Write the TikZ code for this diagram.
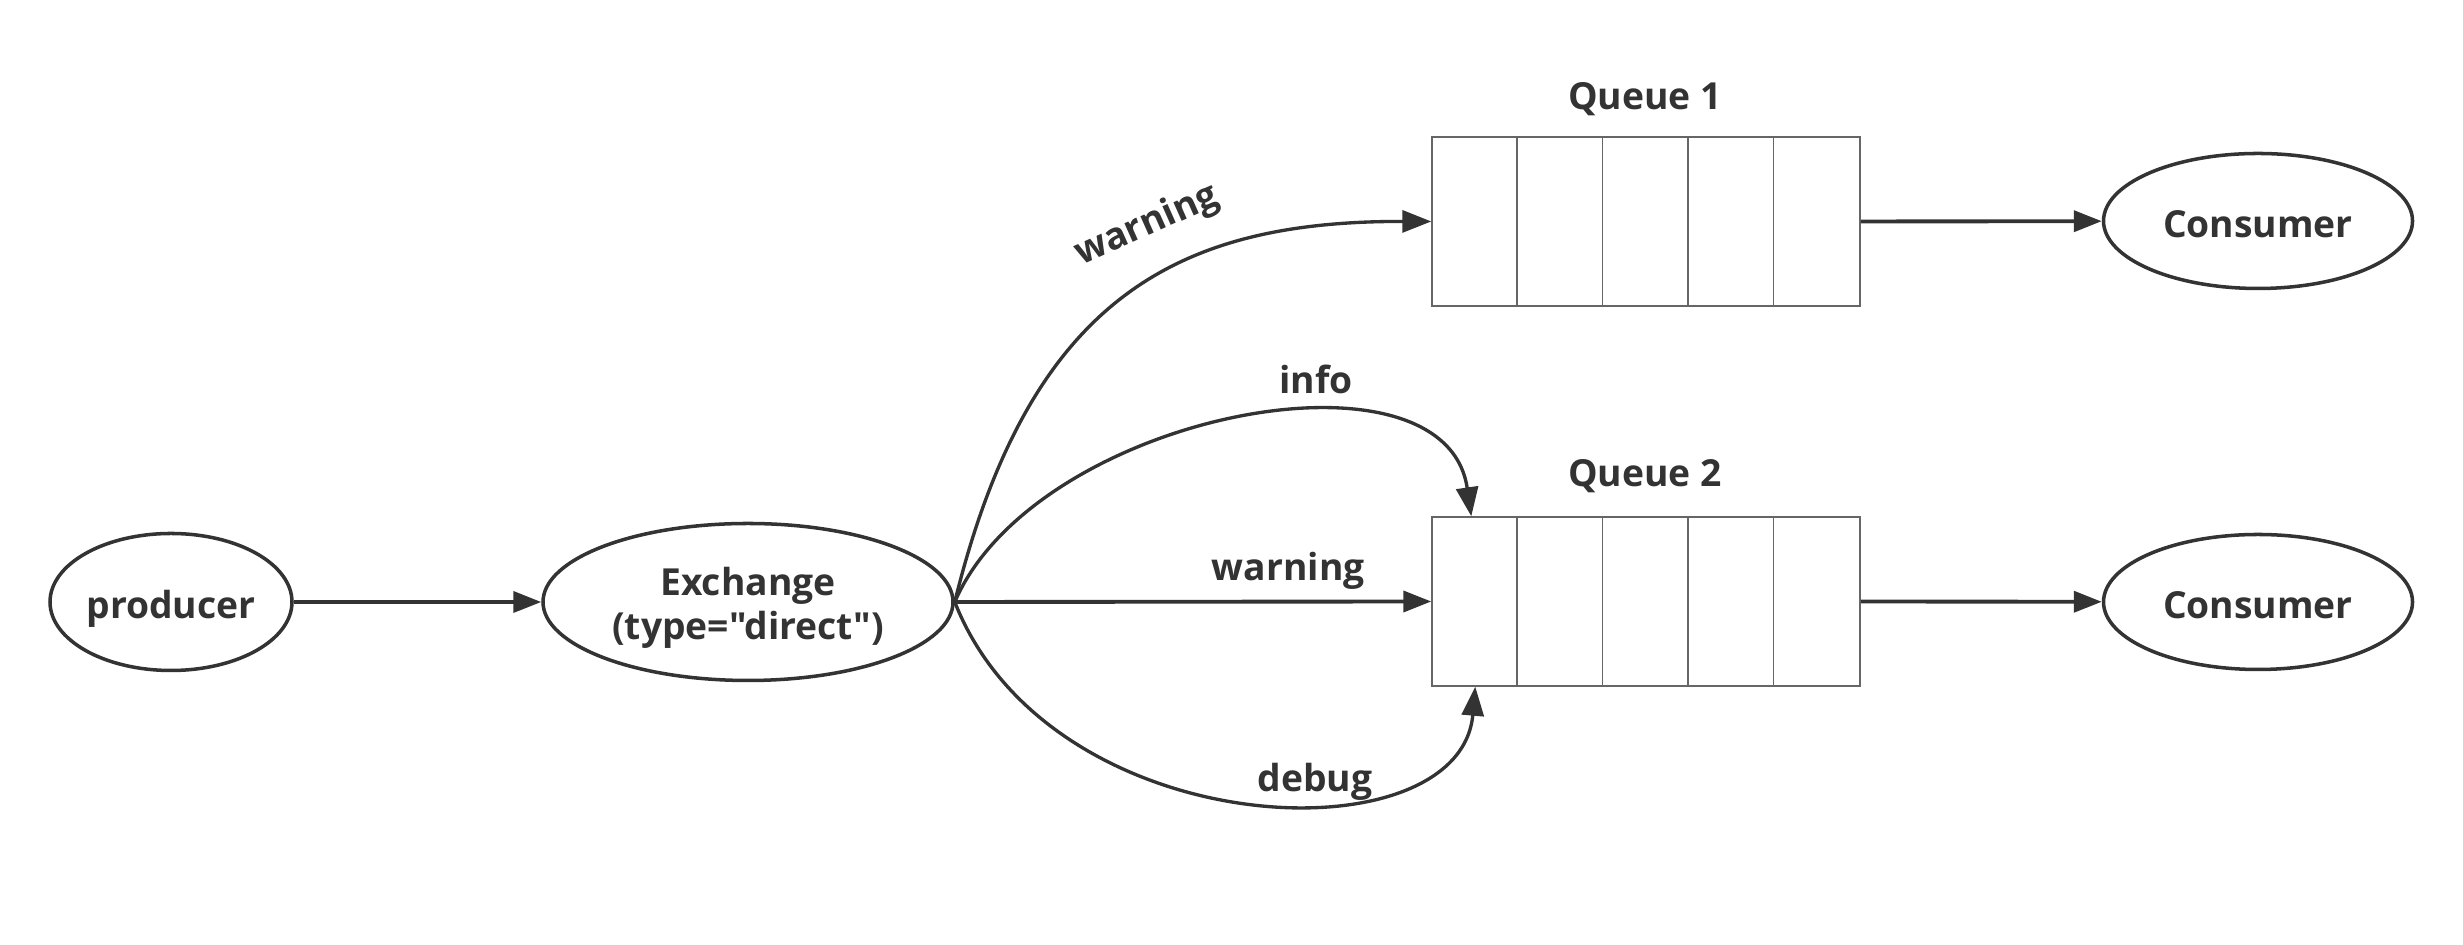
\documentclass[tikz,border=0pt]{standalone}
\usepackage{fontspec}
\setmainfont{Open Sans}[BoldFont={Open Sans Bold}, Ligatures=TeXOff]
\usepackage{tikz}
\usetikzlibrary{arrows.meta, shapes.geometric}

\definecolor{ink}{HTML}{333333}
\definecolor{boxline}{HTML}{666666}

\begin{document}
\begin{tikzpicture}[
    font=\bfseries\fontsize{10.6}{12.5}\selectfont, text=ink,
    endpoint/.style={ellipse, draw=ink, line width=1pt, inner sep=0pt,
        text height=1.21em, text depth=0.25em},
    queuebox/.style={rectangle, draw=boxline, line width=0.42pt, inner sep=0pt,
        minimum width=4.28cm, minimum height=1.69cm},
    cellline/.style={draw=boxline, line width=0.42pt},
    link/.style={draw=ink, line width=1.1pt, -{Triangle[length=0.28cm, width=0.21cm]}},
    curvelink/.style={draw=ink, line width=0.95pt, -{Triangle[length=0.29cm, width=0.22cm]}}
]
    \useasboundingbox (0,0) rectangle (24.63,9.45);
    % Producer and exchange
    \node[endpoint, minimum width=2.42cm, minimum height=1.37cm] (producer) at (1.71,3.43) {producer};
    \node[endpoint, minimum width=4.10cm, minimum height=1.57cm, align=center,
        text height=2.39em] (exchange) at (7.48,3.43) {Exchange\\(type="direct")};
    % Queues
    \node[queuebox] (q1) at (16.46,7.235) {};
    \node[queuebox] (q2) at (16.46,3.435) {};
    \foreach \k in {1,...,4} {
        \draw[cellline] ([xshift=\k*0.856cm]q1.north west) -- ([xshift=\k*0.856cm]q1.south west);
        \draw[cellline] ([xshift=\k*0.856cm]q2.north west) -- ([xshift=\k*0.856cm]q2.south west);
    }
    \node (q1name) at (16.45,8.46) {Queue 1};
    \node (q2name) at (16.45,4.69) {Queue 2};
    % Consumers
    \node[endpoint, minimum width=3.09cm, minimum height=1.35cm] (cons1) at (22.58,7.24) {Consumer};
    \node[endpoint, minimum width=3.09cm, minimum height=1.35cm] (cons2) at (22.58,3.43) {Consumer};
    % Entry points on queue 2
    \coordinate (q2top) at ([xshift=0.40cm]q2.north west);
    \coordinate (q2bot) at ([xshift=0.44cm]q2.south west);
    % Connectors
    \draw[link] (producer) -- (exchange);
    \draw[link] (q1.east) -- (cons1);
    \draw[link] (q2.east) -- (cons2);
    \draw[link] (exchange.east) -- node[pos=0.7, above=-0.5pt] (lblwarn2) {warning} (q2.west);
    \draw[curvelink] (exchange.east) .. controls (10.3,6.5) and (11.8,7.24) .. (q1.west);
    \node[rotate=24] (lblwarn1) at (11.47,7.19) {warning};
    \draw[curvelink] (exchange.east) .. controls (10.35,5.3) and (14.45,6.1) .. (q2top);
    \node (lblinfo) at (13.16,5.66) {info};
    \draw[curvelink] (exchange.east) .. controls (10.5,1.0) and (14.6,0.85) .. (q2bot);
    \node (lbldebug) at (13.15,1.63) {debug};
\end{tikzpicture}
\end{document}
